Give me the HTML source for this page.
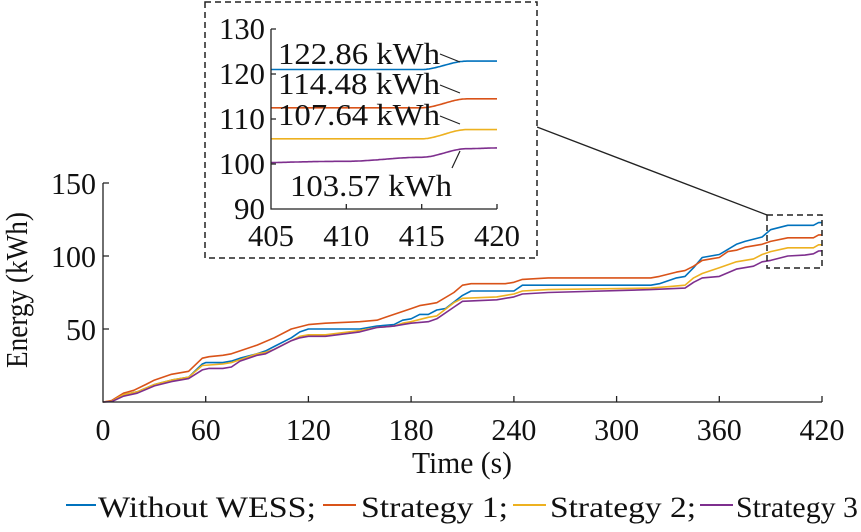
<!DOCTYPE html>
<html><head><meta charset="utf-8"><style>
html,body{margin:0;padding:0;background:#fff;}
svg text{font-family:"Liberation Serif",serif;fill:#111;}
</style></head><body>
<svg id="s" width="861" height="527" viewBox="0 0 861 527" xmlns="http://www.w3.org/2000/svg">
<defs><clipPath id="ic"><rect x="271" y="29" width="226" height="180"/></clipPath></defs>
<g id="main"></g>
<g stroke="#222" stroke-width="1.3" fill="none">
<path d="M103,183 V402 H822"/>
<path d="M103,183 h6 M103,256 h6 M103,329 h6"/>
<path d="M205.7,402 v-6 M308.4,402 v-6 M411.1,402 v-6 M513.9,402 v-6 M616.6,402 v-6 M719.3,402 v-6 M822,402 v-6"/>
</g>
<g font-size="31" text-anchor="end">
<text x="96" y="194" textLength="45" lengthAdjust="spacingAndGlyphs">150</text>
<text x="96" y="267" textLength="45" lengthAdjust="spacingAndGlyphs">100</text>
<text x="96" y="340" textLength="30" lengthAdjust="spacingAndGlyphs">50</text>
</g>
<g font-size="31" text-anchor="middle">
<text x="103" y="440" textLength="15" lengthAdjust="spacingAndGlyphs">0</text>
<text x="205.7" y="440" textLength="30" lengthAdjust="spacingAndGlyphs">60</text>
<text x="308.4" y="440" textLength="45" lengthAdjust="spacingAndGlyphs">120</text>
<text x="411.1" y="440" textLength="45" lengthAdjust="spacingAndGlyphs">180</text>
<text x="513.9" y="440" textLength="45" lengthAdjust="spacingAndGlyphs">240</text>
<text x="616.6" y="440" textLength="45" lengthAdjust="spacingAndGlyphs">300</text>
<text x="719.3" y="440" textLength="45" lengthAdjust="spacingAndGlyphs">360</text>
<text x="822" y="440" textLength="45" lengthAdjust="spacingAndGlyphs">420</text>
<text x="462" y="473" textLength="100" lengthAdjust="spacingAndGlyphs">Time (s)</text>
<text transform="translate(27,290) rotate(-90)" textLength="156" lengthAdjust="spacingAndGlyphs">Energy (kWh)</text>
</g>
<rect x="767" y="215" width="55" height="53" fill="none" stroke="#222" stroke-width="1.5" stroke-dasharray="6,4"/>
<line x1="537" y1="127" x2="767" y2="215" stroke="#222" stroke-width="1.3"/>
<rect x="205" y="2" width="332" height="256" fill="#fff" stroke="#222" stroke-width="1.5" stroke-dasharray="6,4"/>
<g id="inset" clip-path="url(#ic)"></g>
<g stroke="#222" stroke-width="1.3" fill="none">
<path d="M271,29 V209 H497"/>
<path d="M271,29 h5 M271,74 h5 M271,119 h5 M271,164 h5"/>
<path d="M346.3,209 v-5 M421.7,209 v-5 M497,209 v-5"/>
<path d="M440,54 L460,62 M440,85 L460,93 M440,116 L460,124 M460,151 L452,168" stroke-width="1.2"/>
</g>
<g font-size="31" text-anchor="end">
<text x="265" y="39" textLength="46" lengthAdjust="spacingAndGlyphs">130</text>
<text x="265" y="84" textLength="46" lengthAdjust="spacingAndGlyphs">120</text>
<text x="265" y="129" textLength="46" lengthAdjust="spacingAndGlyphs">110</text>
<text x="265" y="174" textLength="46" lengthAdjust="spacingAndGlyphs">100</text>
<text x="265" y="219" textLength="31" lengthAdjust="spacingAndGlyphs">90</text>
</g>
<g font-size="31" text-anchor="middle">
<text x="271" y="246" textLength="46" lengthAdjust="spacingAndGlyphs">405</text>
<text x="346.3" y="246" textLength="46" lengthAdjust="spacingAndGlyphs">410</text>
<text x="421.7" y="246" textLength="46" lengthAdjust="spacingAndGlyphs">415</text>
<text x="497" y="246" textLength="46" lengthAdjust="spacingAndGlyphs">420</text>
</g>
<g font-size="31">
<text x="278" y="64" textLength="162" lengthAdjust="spacingAndGlyphs">122.86 kWh</text>
<text x="278" y="94" textLength="162" lengthAdjust="spacingAndGlyphs">114.48 kWh</text>
<text x="278" y="125" textLength="162" lengthAdjust="spacingAndGlyphs">107.64 kWh</text>
<text x="290" y="196" textLength="162" lengthAdjust="spacingAndGlyphs">103.57 kWh</text>
</g>
<g stroke-width="2">
<line x1="66" y1="505" x2="96" y2="505" stroke="#0072BD"/>
<line x1="323" y1="505" x2="356" y2="505" stroke="#D95319"/>
<line x1="513" y1="505" x2="546" y2="505" stroke="#EDB120"/>
<line x1="700" y1="505" x2="733" y2="505" stroke="#7E2F8E"/>
</g>
<g font-size="30">
<text x="98" y="517" textLength="218" lengthAdjust="spacingAndGlyphs">Without WESS;</text>
<text x="361" y="517" textLength="147" lengthAdjust="spacingAndGlyphs">Strategy 1;</text>
<text x="550" y="517" textLength="146" lengthAdjust="spacingAndGlyphs">Strategy 2;</text>
<text x="736" y="517" textLength="122" lengthAdjust="spacingAndGlyphs">Strategy 3</text>
</g>
</svg>
<script>
var D={
"#0072BD":[0,0,5,0.5,12,5,20,7,30,12,40,15,50,17,58,26,60,27,70,27,75,28,80,30,90,33,95,35,100,38,110,44,115,48,120,50,130,50,150,50,160,52,170,53,175,56,180,57,185,60,190,60,195,63,200,64,210,73,215,76,240,76,245,80,260,80,320,80,325,81,335,85,340,86,345,92,350,99,355,100,360,101,370,108,375,110,385,113,390,118,400,121,415,121,418,122.86,420,122.86],
"#D95319":[0,0,5,1,12,6,18,8,25,12,30,15,40,19,50,21,58,30,62,31,70,32,75,33,80,35,90,39,100,44,110,50,120,53,130,54,150,55,160,56,165,58,170,60,180,64,185,66,190,67,195,68,205,75,210,80,215,81,235,81,240,82,245,84,260,85,320,85,325,86,335,89,340,90,345,93,350,97,355,98,360,99,365,103,370,104,375,106,385,108,390,110,400,112.5,415,112.5,418,114.48,420,114.48],
"#EDB120":[0,0,5,0.5,12,5,20,7,30,12,40,15,50,17,58,25,70,26,75,27,80,29,90,33,95,34,100,36,110,42,115,45,120,46,130,46,150,49,160,51,170,52,175,54,180,55,190,58,195,59,205,68,210,71,230,72,240,74,245,76,260,77,320,78,330,79,340,80,345,85,350,88,355,90,360,92,370,96,380,98,385,101,390,103,400,105.6,415,105.6,418,107.64,420,107.64],
"#7E2F8E":[0,0,5,0.3,12,4,20,6,30,11,40,14,50,16,58,22,62,23,70,23,75,24,80,28,90,32,95,33,100,36,110,42,115,44,120,45,130,45,150,48,160,51,170,52,175,53,180,54,190,55,195,57,205,65,210,69,230,70,240,72,245,74,260,75,320,77,340,78,345,82,350,85,360,86,370,91,380,93,385,96,390,97,400,100,410,100.6,415,101.5,418,103.4,420,103.57]};
var ns="http://www.w3.org/2000/svg",m=document.getElementById("main"),ins=document.getElementById("inset");
for(var c in D){var a=D[c],p="",q="";
for(var i=0;i<a.length;i+=2){var t=a[i],e=a[i+1];
p+=(i?"L":"M")+(103+t*719/420).toFixed(1)+","+(402-e*1.46).toFixed(1);}
var P=document.createElementNS(ns,"path");P.setAttribute("d",p);P.setAttribute("fill","none");P.setAttribute("stroke",c);P.setAttribute("stroke-width","1.6");P.setAttribute("stroke-linejoin","round");m.appendChild(P);
for(var t=404;t<=421;t+=0.1){var v=0;for(var i=0;i<a.length-2;i+=2){if(t>=a[i]&&t<=a[i+2]){var f=(t-a[i])/(a[i+2]-a[i]);f=f*f*(3-2*f);v=a[i+1]+f*(a[i+3]-a[i+1]);}}if(t>420)v=a[a.length-1];
q+=(q?"L":"M")+(271+(t-405)*226/15).toFixed(1)+","+(209-(v-90)*4.5).toFixed(1);}
var Q=document.createElementNS(ns,"path");Q.setAttribute("d",q);Q.setAttribute("fill","none");Q.setAttribute("stroke",c);Q.setAttribute("stroke-width","1.6");ins.appendChild(Q);}
</script>
</body></html>
